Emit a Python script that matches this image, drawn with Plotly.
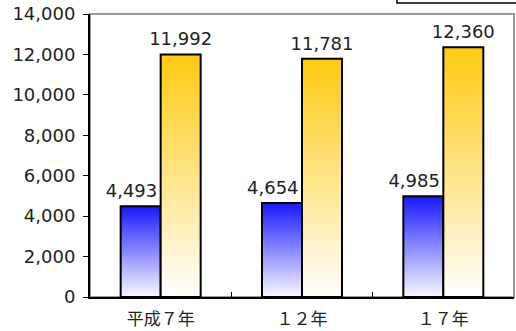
import plotly.graph_objects as go

categories = ["平成７年", "１２年", "１７年"]
series_a = [4493, 4654, 4985]
series_b = [11992, 11781, 12360]
y_ticks = [0, 2000, 4000, 6000, 8000, 10000, 12000, 14000]

BAR_W = 0.283
FONT = "DejaVu Sans"

fig = go.Figure()

def add_bars(values, offset, cscale, label_shift=0.0):
    # gradient-filled bars (one polygon per bar, derived from the data)
    for i, v in enumerate(values):
        x0 = i + offset
        x1 = x0 + BAR_W
        fig.add_trace(go.Scatter(
            x=[x0, x1, x1, x0, x0], y=[0, 0, v, v, 0],
            mode="lines", fill="toself",
            fillgradient=dict(type="vertical", colorscale=cscale, start=0, stop=v),
            line=dict(color="#000000", width=2),
            hoverinfo="skip", showlegend=False))
    fig.add_trace(go.Scatter(
        x=[i + offset + BAR_W / 2 + label_shift for i in range(len(values))], y=values,
        mode="markers+text", text=[f"{v:,}" for v in values],
        marker=dict(size=6, opacity=0),
        textposition="top center",
        textfont=dict(family=FONT, size=18, color="#222222"),
        hoverinfo="skip", showlegend=False))

add_bars(series_a, -BAR_W, [[0, "#FAFAFF"], [1, "#1818FF"]], label_shift=-0.065)
add_bars(series_b, 0.0, [[0, "#FFFFFF"], [1, "#FFCA10"]])

fig.update_layout(
    width=516, height=331,
    margin=dict(l=90, r=2, t=14, b=34),
    paper_bgcolor="white", plot_bgcolor="white",
    showlegend=False,
    font=dict(family=FONT, size=18, color="#222222"),
    xaxis=dict(
        range=[-0.5, 2.5], tickmode="array", tickvals=[0, 1, 2], ticktext=categories,
        ticks="", showgrid=False, zeroline=False,
        showline=True, linecolor="#000000", linewidth=2,
        tickfont=dict(family="Noto Sans CJK JP", size=17, color="#222222"),
        ticklabelstandoff=6,
        minor=dict(tickmode="array", tickvals=[0.5, 1.5], ticks="inside",
                   ticklen=5, tickcolor="#000000", tickwidth=1, showgrid=False),
    ),
    yaxis=dict(
        range=[0, 14000], tickmode="array", tickvals=y_ticks,
        tickformat=",", ticks="outside", ticklen=5, tickcolor="#000000",
        showgrid=False, zeroline=False,
        showline=True, linecolor="#000000", linewidth=2,
        tickfont=dict(family=FONT, size=18, color="#222222"),
        ticklabelstandoff=4,
    ),
    shapes=[
        dict(type="rect", xref="x domain", yref="y domain", x0=0, x1=1, y0=0, y1=1,
             line=dict(color="#999999", width=2), layer="below"),
        dict(type="rect", xref="paper", yref="paper", x0=0.724, x1=1.2, y0=1.039, y1=1.3,
             line=dict(color="#000000", width=1.5), fillcolor="white"),
    ],
)

fig.write_html("out.html", config={"displayModeBar": False},
               post_script="document.body.style.margin='0';")
